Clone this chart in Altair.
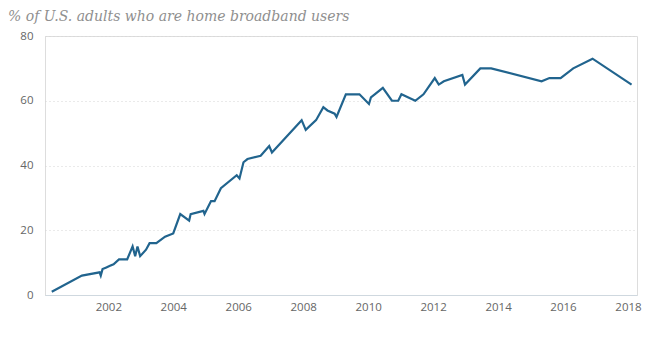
import altair as alt
import pandas as pd

dates = [
    "2000-04-05", "2001-03-10", "2001-09-25", "2001-10-08", "2001-10-28",
    "2001-12-10", "2002-01-20", "2002-03-01", "2002-05-01", "2002-08-01",
    "2002-10-01", "2002-10-30", "2002-11-25", "2002-12-25", "2003-03-01",
    "2003-04-10", "2003-06-25", "2003-10-01", "2004-01-01", "2004-03-20",
    "2004-06-28", "2004-07-15", "2004-12-05", "2004-12-18", "2005-03-01",
    "2005-04-10", "2005-06-20", "2005-12-15", "2006-01-15", "2006-03-01",
    "2006-04-15", "2006-09-10", "2006-12-15", "2007-01-15", "2007-12-15",
    "2008-01-30", "2008-05-25", "2008-08-15", "2008-09-30", "2008-12-20",
    "2009-01-10", "2009-04-25", "2009-09-25", "2010-01-10", "2010-02-01",
    "2010-06-15", "2010-09-25", "2010-12-05", "2011-01-10", "2011-06-15",
    "2011-09-15", "2012-01-20", "2012-03-05", "2012-05-01", "2012-11-25",
    "2012-12-25", "2013-06-15", "2013-10-15", "2015-05-05", "2015-08-01",
    "2015-12-05", "2016-04-25", "2016-11-28", "2018-02-10",
]
values = [
    1, 6, 7, 6, 8,
    8.5, 9, 9.5, 11, 11,
    15, 12, 15, 12, 14,
    16, 16, 18, 19, 25,
    23, 25, 26, 25, 29,
    29, 33, 37, 36, 41,
    42, 43, 46, 44, 54,
    51, 54, 58, 57, 56,
    55, 62, 62, 59, 61,
    64, 60, 60, 62, 60,
    62, 67, 65, 66, 68,
    65, 70, 70, 66, 67,
    67, 70, 73, 65,
]
tick_years = [2002, 2004, 2006, 2008, 2010, 2012, 2014, 2016, 2018]
y_ticks = [0, 20, 40, 60, 80]
title_text = "% of U.S. adults who are home broadband users"

df = pd.DataFrame({"date": pd.to_datetime(dates), "value": values})

chart = (
    alt.Chart(df)
    .mark_line(color="#21648e", strokeWidth=2.2, strokeJoin="miter")
    .encode(
        x=alt.X(
            "date:T",
            title=None,
            scale=alt.Scale(
                domain=[
                    alt.DateTime(year=2000, month=1, date=20),
                    alt.DateTime(year=2018, month=4, date=12),
                ]
            ),
            axis=alt.Axis(
                values=[alt.DateTime(year=y, month=1, date=1) for y in tick_years],
                format="%Y",
                grid=False,
                ticks=False,
                domain=True,
                domainColor="#cfd8df",
                domainWidth=1,
                labelFlush=True,
                labelPadding=6,
                labelColor="#666666",
                labelFont="Open Sans",
                labelFontSize=11.5,
            ),
        ),
        y=alt.Y(
            "value:Q",
            title=None,
            scale=alt.Scale(domain=[0, 80], nice=False),
            axis=alt.Axis(
                values=y_ticks,
                grid=True,
                gridColor="#d4d4d4",
                gridDash=[1, 3],
                gridWidth=1,
                ticks=False,
                domain=False,
                labelPadding=12,
                labelColor="#666666",
                labelFont="Open Sans",
                labelFontSize=11.5,
            ),
        ),
    )
    .properties(
        width=592,
        height=259,
        autosize=alt.AutoSizeParams(type="none"),
        padding={"left": 45, "top": 36, "right": 35, "bottom": 51},
        title=alt.TitleParams(
            text=title_text,
            anchor="start",
            frame="group",
            dx=-37,
            dy=16,
            offset=11,
            baseline="alphabetic",
            font="DejaVu Serif",
            fontStyle="italic",
            fontWeight="normal",
            fontSize=14,
            color="#8f8f8f",
        ),
    )
    .configure_view(stroke="transparent", strokeWidth=0)
    .configure(background="white")
)

chart.save("out.html", embed_options={"renderer": "svg", "actions": False})
